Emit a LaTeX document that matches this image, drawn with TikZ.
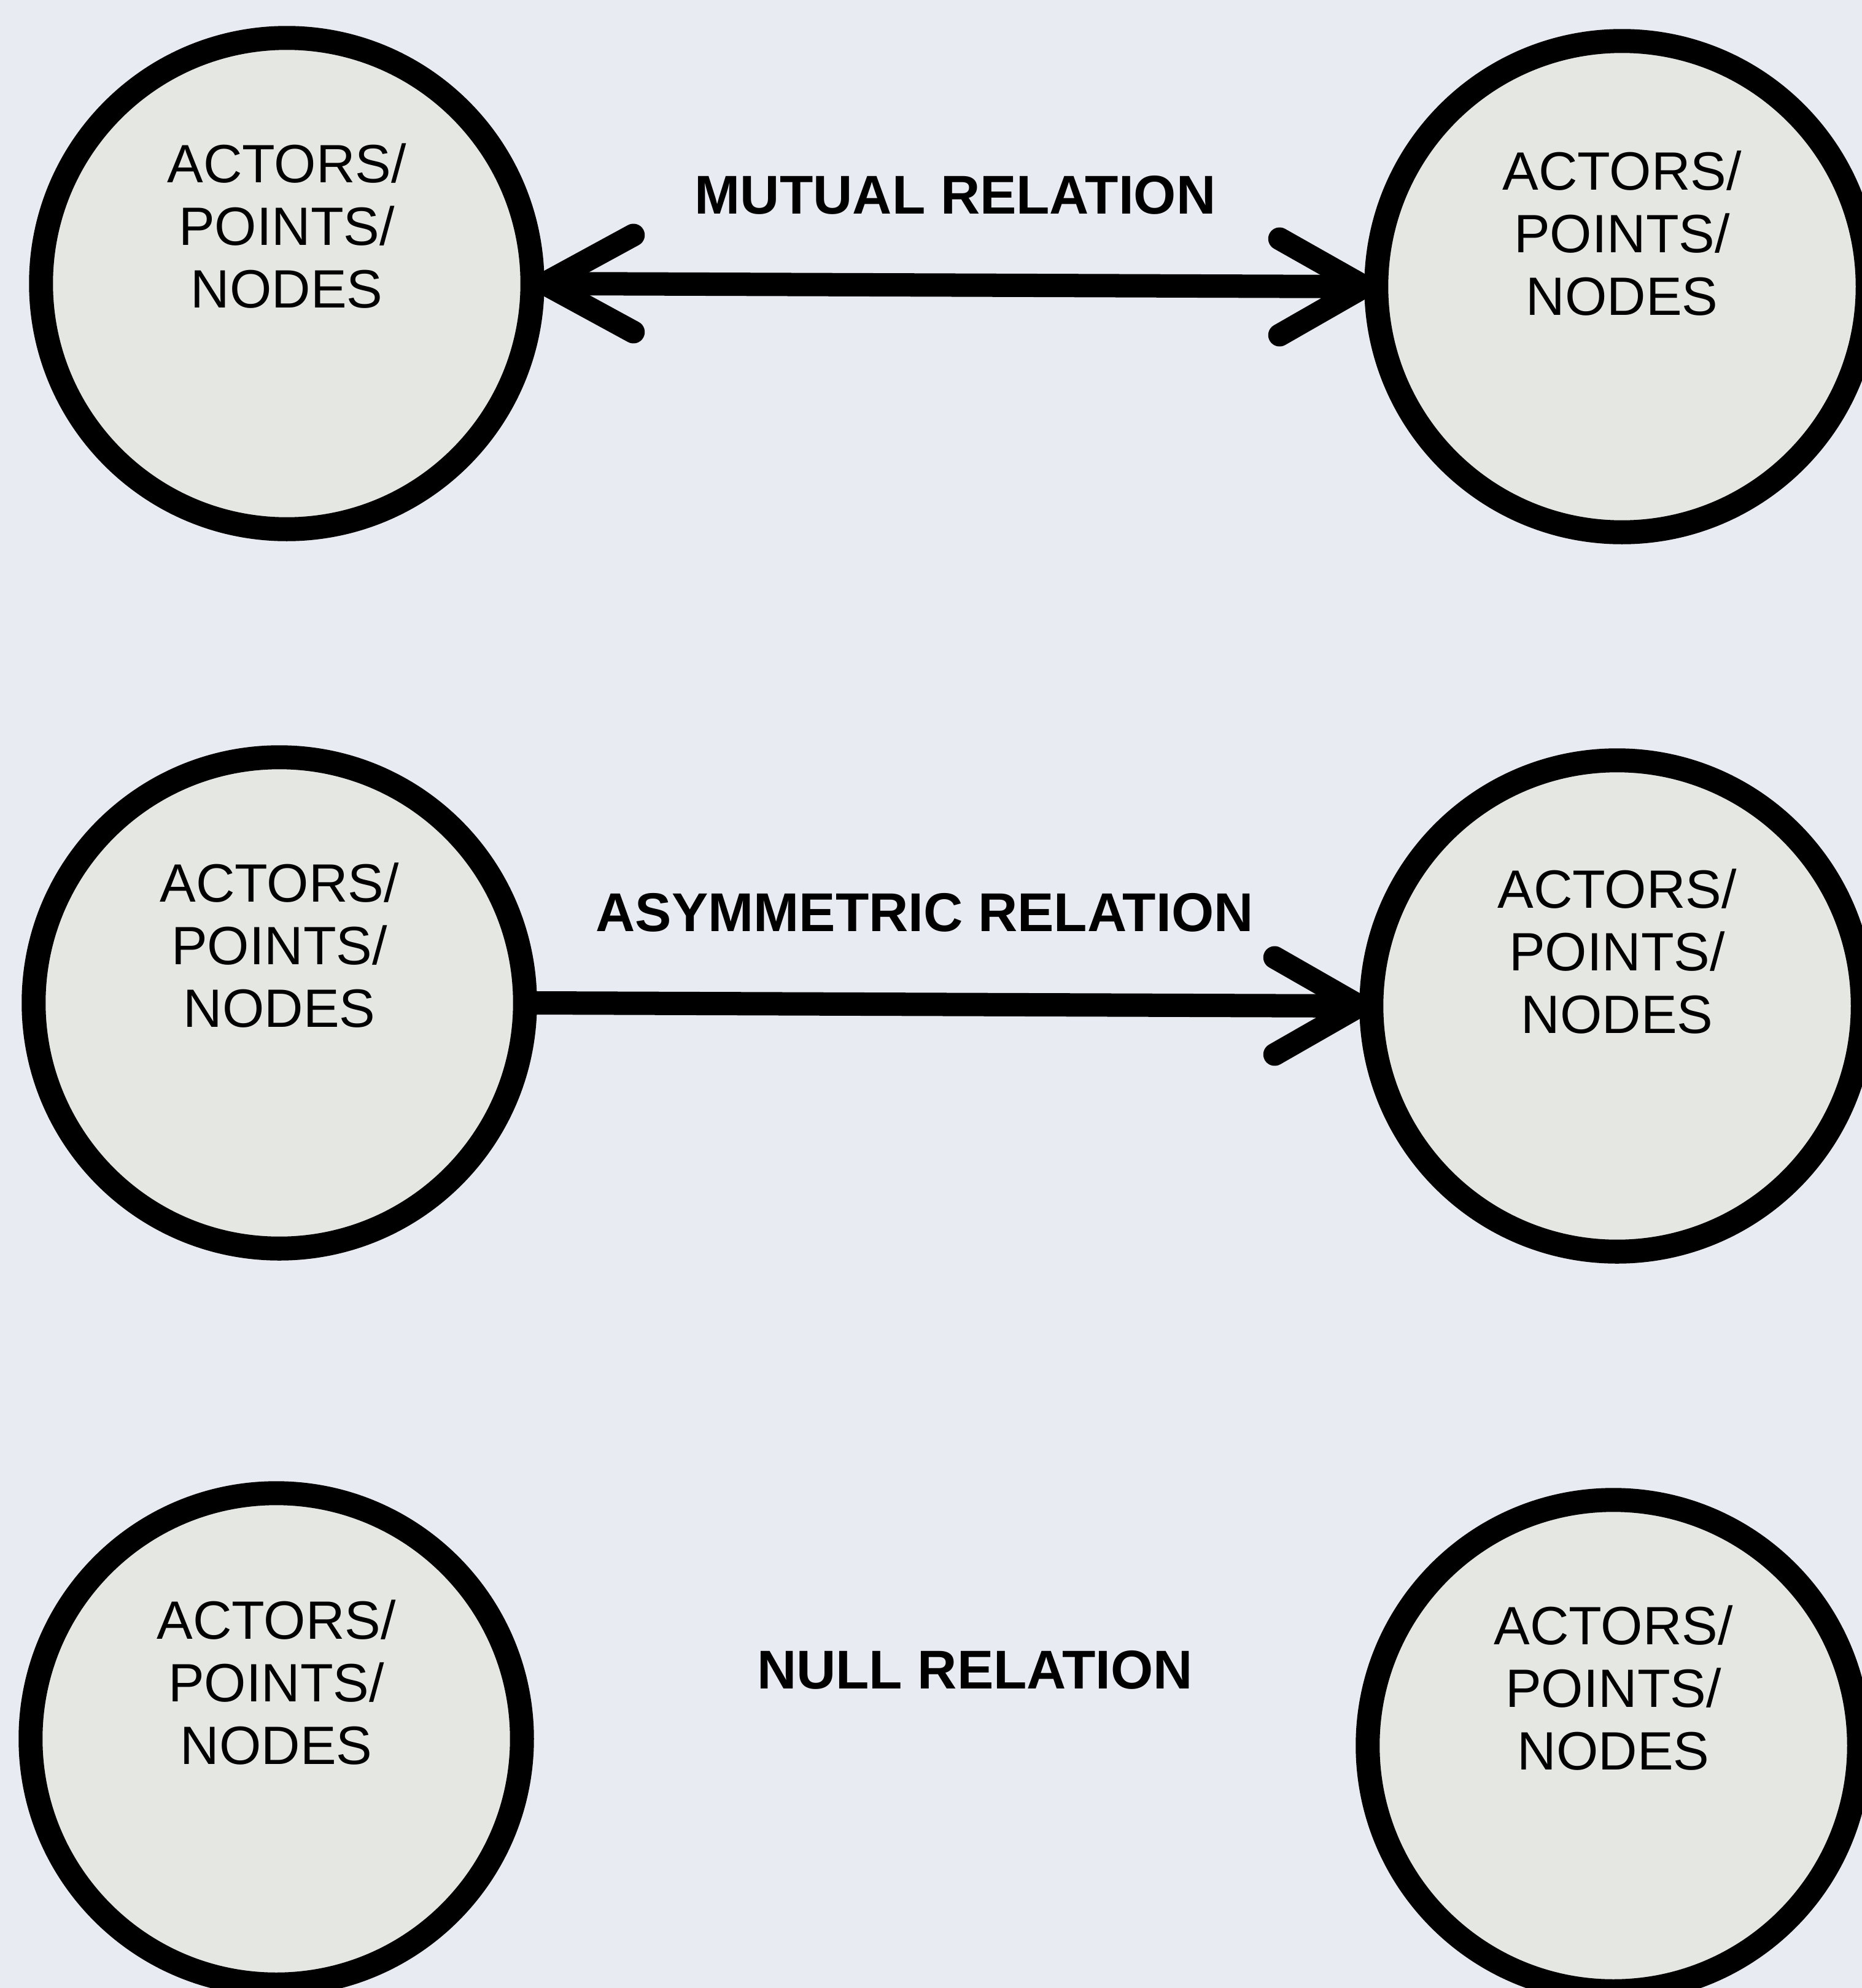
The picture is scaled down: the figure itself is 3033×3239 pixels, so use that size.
\documentclass[tikz,border=0pt]{standalone}
\usepackage{fontspec}
\setmainfont{Liberation Sans}
\usetikzlibrary{calc}
\definecolor{bgcol}{RGB}{233,235,242}
\definecolor{fillcol}{RGB}{229,231,226}
\tikzset{
  actor/.style={circle, draw=black, fill=fillcol, line width=0.39cm, minimum size=8.0cm, inner sep=0pt},
  actortext/.style={align=center, inner sep=0pt, font=\fontsize{25}{29}\selectfont},
  rellabel/.style={inner sep=0pt, font=\fontsize{25.3}{30}\selectfont\bfseries},
  shaft/.style={line width=0.38cm, line cap=round},
  barb/.style={line width=0.37cm, line cap=round, line join=round}
}
\begin{document}
\begin{tikzpicture}[x=0.01cm,y=-0.01cm]
\fill[bgcol] (0,0) rectangle (3033,3239);
\useasboundingbox (0,0) rectangle (3033,3239);

% circles
\node[actor] (c1) at (467,462) {};
\node[actor] (c2) at (2642,467) {};
\node[actor] (c3) at (455,1634) {};
\node[actor] (c4) at (2634,1639) {};
\node[actor] (c5) at (450,2833) {};
\node[actor] (c6) at (2628,2844) {};

% circle texts
\node[actortext] (t1) at ($(c1)+(0,-94)$) {ACTORS/\\POINTS/\\NODES};
\node[actortext] (t2) at ($(c2)+(0,-87)$) {ACTORS/\\POINTS/\\NODES};
\node[actortext] (t3) at ($(c3)+(0,-94)$) {ACTORS/\\POINTS/\\NODES};
\node[actortext] (t4) at ($(c4)+(0,-89)$) {ACTORS/\\POINTS/\\NODES};
\node[actortext] (t5) at ($(c5)+(0,-92)$) {ACTORS/\\POINTS/\\NODES};
\node[actortext] (t6) at ($(c6)+(0,-94)$) {ACTORS/\\POINTS/\\NODES};

% relation labels
\node[rellabel] (l1) at (1556,318) {MUTUAL RELATION};
\node[rellabel] (l2) at (1506,1487) {ASYMMETRIC RELATION};
\node[rellabel] (l3) at (1588,2721) {NULL RELATION};

% mutual relation
\coordinate (a1) at (c1.east);
\coordinate (a2) at (c2.west);
\draw[shaft] (a1) -- (a2);
\draw[barb] ($(a1)+(145,-79)$) -- (a1) -- ($(a1)+(145,79)$);
\draw[barb] ($(a2)+(-138,-78)$) -- (a2) -- ($(a2)+(-138,79)$);

% asymmetric relation
\coordinate (a3) at (c3.east);
\coordinate (a4) at (c4.west);
\draw[shaft] (a3) -- (a4);
\draw[barb] ($(a4)+(-138,-79)$) -- (a4) -- ($(a4)+(-138,79)$);
\end{tikzpicture}
\end{document}
